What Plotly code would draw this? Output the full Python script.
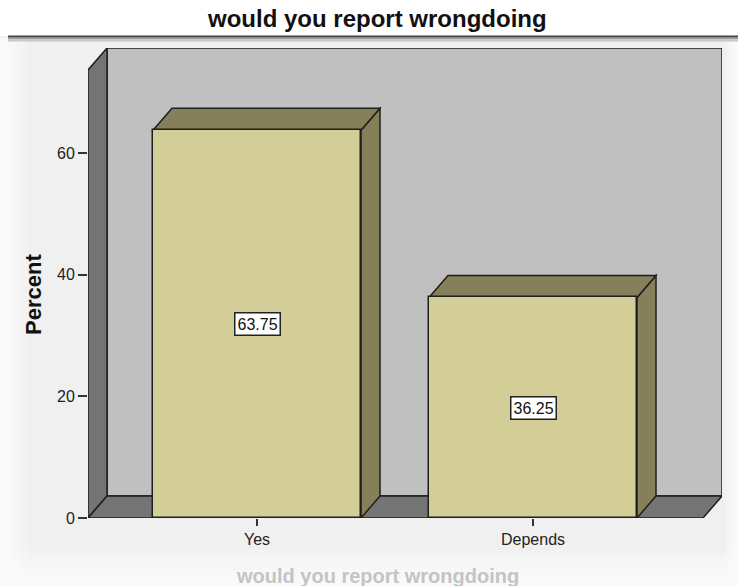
import plotly.graph_objects as go

# ---- data ----
categories = ["Yes", "Depends"]
percents = [63.75, 36.25]
y_ticks = [0, 20, 40, 60]
chart_title = "would you report wrongdoing"
y_title = "Percent"

# ---- geometry (pixel layout of the picture) ----
W, H = 738, 586
PL, PR, PT, PB = 88, 722, 48, 518          # plot-area pixel box
PX_PER_CAT = 276.0
PX_PER_UNIT = 365.0 / 60.0
CENTER0 = 257.0                            # pixel of first category
x_lo = (PL - CENTER0) / PX_PER_CAT
x_hi = (PR - CENTER0) / PX_PER_CAT
y_hi = (PB - PT) / PX_PER_UNIT
DX = 19.0 / PX_PER_CAT                     # 3-D depth offset (x units)
DY = 22.0 / PX_PER_UNIT                    # 3-D depth offset (y units)
Y_FRONT_TOP = (PB - 70) / PX_PER_UNIT
BAR_W = 208.0 / PX_PER_CAT

FRONT = "#D3CE97"
DARKF = "#858059"
WALL = "#C0C0C0"
SIDE = "#747474"
EDGE = "#1e1e1e"
FONT = "Liberation Sans, Arial, sans-serif"


def px2paper_x(px):
    return (px - PL) / (PR - PL)


def px2paper_y(py):
    return (PB - py) / (PB - PT)


shapes = []

# ---- page decoration (screenshot frame look) ----
shapes.append(dict(type="rect", xref="paper", yref="paper", layer="below",
                   x0=px2paper_x(0), x1=px2paper_x(W), y0=px2paper_y(0), y1=px2paper_y(36),
                   fillcolor="white", line=dict(width=0)))
for k in range(1, 9):
    shapes.append(dict(type="rect", xref="paper", yref="paper", layer="below",
                       x0=px2paper_x(0), x1=px2paper_x(3.5 * k), y0=px2paper_y(38), y1=px2paper_y(H),
                       fillcolor="white", opacity=0.16, line=dict(width=0)))
    shapes.append(dict(type="rect", xref="paper", yref="paper", layer="below",
                       x0=px2paper_x(0), x1=px2paper_x(W), y0=px2paper_y(H), y1=px2paper_y(H - 4.5 * k),
                       fillcolor="white", opacity=0.16, line=dict(width=0)))
    shapes.append(dict(type="rect", xref="paper", yref="paper", layer="below",
                       x0=px2paper_x(W - 1.6 * k), x1=px2paper_x(W), y0=px2paper_y(38), y1=px2paper_y(H),
                       fillcolor="white", opacity=0.16, line=dict(width=0)))
for yy, col, wd in [(40.5, "#c8c8c8", 2), (38.5, "#9a9a9a", 1.5), (36.5, "#444444", 2)]:
    shapes.append(dict(type="line", xref="paper", yref="paper", layer="below",
                       x0=px2paper_x(8), x1=px2paper_x(W), y0=px2paper_y(yy), y1=px2paper_y(yy),
                       line=dict(color=col, width=wd)))

# ---- 3-D walls ----
shapes.append(dict(type="rect", xref="x", yref="y", layer="below",
                   x0=x_lo + DX, x1=x_hi, y0=DY, y1=Y_FRONT_TOP + DY,
                   fillcolor=WALL, line=dict(color=EDGE, width=1.5)))
shapes.append(dict(type="path", xref="x", yref="y", layer="below",
                   path=f"M {x_lo},0 L {x_lo},{Y_FRONT_TOP} L {x_lo+DX},{Y_FRONT_TOP+DY} L {x_lo+DX},{DY} Z",
                   fillcolor=SIDE, line=dict(color=EDGE, width=1.5)))
shapes.append(dict(type="path", xref="x", yref="y", layer="below",
                   path=f"M {x_lo},0 L {x_lo+DX},{DY} L {x_hi},{DY} L {x_hi-DX},0 Z",
                   fillcolor=SIDE, line=dict(color=EDGE, width=1.5)))

# ---- 3-D bar top and side faces from the data ----
for i, v in enumerate(percents):
    x0, x1 = i - BAR_W / 2, i + BAR_W / 2
    shapes.append(dict(type="path", xref="x", yref="y", layer="below",
                       path=f"M {x1},0 L {x1+DX},{DY} L {x1+DX},{v+DY} L {x1},{v} Z",
                       fillcolor=DARKF, line=dict(color=EDGE, width=1.5)))
    shapes.append(dict(type="path", xref="x", yref="y", layer="below",
                       path=f"M {x0},{v} L {x0+DX},{v+DY} L {x1+DX},{v+DY} L {x1},{v} Z",
                       fillcolor=DARKF, line=dict(color=EDGE, width=1.5)))

fig = go.Figure()
fig.add_trace(go.Bar(
    x=list(range(len(categories))), y=percents, width=BAR_W,
    marker=dict(color=FRONT, line=dict(color=EDGE, width=1.5)),
    hoverinfo="skip", showlegend=False,
))

annotations = []
for i, v in enumerate(percents):
    annotations.append(dict(x=i, y=v / 2, xref="x", yref="y", text=f"{v:.2f}",
                            xanchor="center", yanchor="middle",
                            showarrow=False, font=dict(family=FONT, size=16, color="#111"),
                            bgcolor="white", bordercolor="#222", borderwidth=1.5, borderpad=2))
annotations.append(dict(x=px2paper_x(33), y=px2paper_y(295), xref="paper", yref="paper",
                        xanchor="center", yanchor="middle",
                        text=f"<b>{y_title}</b>", textangle=-90, showarrow=False,
                        font=dict(family=FONT, size=22, color="#111")))
annotations.append(dict(x=px2paper_x(377), y=px2paper_y(18), xref="paper", yref="paper",
                        xanchor="center", yanchor="middle",
                        text=f"<b>{chart_title}</b>", showarrow=False,
                        font=dict(family=FONT, size=24, color="#111")))
annotations.append(dict(x=px2paper_x(377), y=px2paper_y(576), xref="paper", yref="paper",
                        xanchor="center", yanchor="middle",
                        text=f"<b>{chart_title}</b>", showarrow=False,
                        font=dict(family=FONT, size=20, color="#c4c4c4")))

fig.update_layout(
    width=W, height=H,
    margin=dict(l=PL, r=W - PR, t=PT, b=H - PB, pad=0),
    paper_bgcolor="#F0F0F0", plot_bgcolor="rgba(0,0,0,0)",
    shapes=shapes, annotations=annotations,
    font=dict(family=FONT, size=16, color="#222"),
    xaxis=dict(range=[x_lo, x_hi], tickvals=list(range(len(categories))), ticktext=categories,
               showgrid=False, zeroline=False, showline=False, ticks="outside",
               ticklen=7, tickwidth=1.5, tickcolor="#333", fixedrange=True,
               tickfont=dict(family=FONT, size=16, color="#222")),
    yaxis=dict(range=[0, y_hi], tickvals=y_ticks, showgrid=False, zeroline=False,
               showline=False, ticks="outside", ticklen=9, tickwidth=1.5, tickcolor="#333",
               fixedrange=True, tickfont=dict(family=FONT, size=16, color="#222")),
    bargap=0,
)

fig.write_html("out.html")
